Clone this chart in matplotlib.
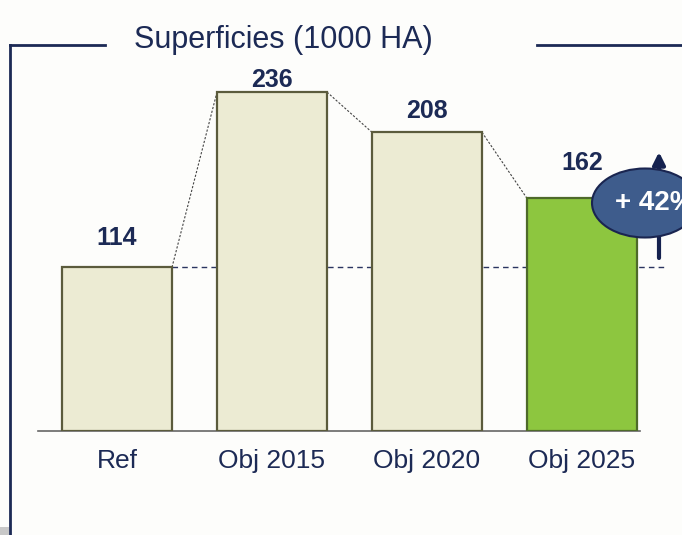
import matplotlib.pyplot as plt
from matplotlib.patches import Ellipse, Rectangle
from matplotlib.lines import Line2D

# data
categories = ['Ref', 'Obj 2015', 'Obj 2020', 'Obj 2025']
values = [114, 236, 208, 162]
title = 'Superficies (1000 HA)'
growth_label = '+ 42%'

# gap (px) between bar top and its value label centre, as placed in the slide
label_gap_px = [32, 15, 24, 38]

navy = '#1c2a55'
beige = '#ecebd3'
beige_edge = '#5b5b3c'
green = '#8dc63f'
green_edge = '#4e6a2a'

plt.rcParams['font.family'] = ['Liberation Sans', 'DejaVu Sans']

W, H = 682, 535
fig = plt.figure(figsize=(W / 100, H / 100), dpi=100)
fig.patch.set_facecolor('#fdfdfb')

# axes placed in pixel terms: baseline at y=431, x from 38 to 640
px_per_unit = 1.436
bar_step = 155.0
ax = fig.add_axes([38 / W, (H - 431) / H, 602 / W, 386 / H])
ax.set_facecolor('none')
xmin = -(117 - 38) / bar_step
ax.set_xlim(xmin, xmin + 602 / bar_step)
ax.set_ylim(0, 386 / px_per_unit)

def px_x(px):
    return xmin + (px - 38) / bar_step

def px_y(py):
    return (431 - py) / px_per_unit

width = 110 / bar_step
x = list(range(len(categories)))
colors = [beige, beige, beige, green]
edges = [beige_edge, beige_edge, beige_edge, green_edge]
ax.bar(x, values, width=width, color=colors, edgecolor=edges, linewidth=1.6, zorder=3)

for xi, v, gap in zip(x, values, label_gap_px):
    ax.text(xi, v + gap / px_per_unit, str(v), ha='center', va='center_baseline',
            fontsize=18, fontweight='bold', color=navy)

# dotted connectors between bar tops
for i in range(len(values) - 1):
    ax.plot([x[i] + width / 2, x[i + 1] - width / 2], [values[i], values[i + 1]],
            color='#444444', linestyle=(0, (2, 1.5)), linewidth=0.8, zorder=2)

# dashed reference line at Ref level
ax.plot([x[0] + width / 2, px_x(667)], [values[0], values[0]], color='#2b3560',
        linestyle=(0, (4, 3)), linewidth=1.0, clip_on=False, zorder=2)

# growth arrow and bubble (bubble runs off the right edge, as in the slide)
ax.annotate('', xy=(px_x(659), px_y(152)), xytext=(px_x(659), px_y(258)),
            arrowprops=dict(arrowstyle='-|>', color='#15224f', lw=3,
                            mutation_scale=18, shrinkA=0, shrinkB=0),
            annotation_clip=False, zorder=4)
ell = Ellipse((px_x(645), px_y(203)), 106 / bar_step, 69 / px_per_unit,
              facecolor='#3e5c8c', edgecolor='#1a2550', linewidth=1.5,
              clip_on=False, zorder=5)
ax.add_patch(ell)
ax.text(px_x(615), px_y(203), growth_label, ha='left', va='center', fontsize=20,
        fontweight='bold', color='white', zorder=6, clip_on=False)

ax.set_xticks(x)
ax.set_xticklabels(categories, fontsize=19, color=navy)
ax.tick_params(axis='x', length=0, pad=13)
ax.set_yticks([])
for s in ['top', 'right', 'left']:
    ax.spines[s].set_visible(False)
ax.spines['bottom'].set_color('#666666')
ax.spines['bottom'].set_linewidth(1.2)

# frame with title
fy = 1 - 45 / H
fig.add_artist(Line2D([10 / W, 105 / W], [fy, fy], color=navy, lw=2))
fig.add_artist(Line2D([537 / W, 1], [fy, fy], color=navy, lw=2))
fig.add_artist(Line2D([10 / W, 10 / W], [0, fy], color=navy, lw=2))
fig.text(283 / W, 1 - 40 / H, title, ha='center', va='center', fontsize=22, color=navy)
fig.add_artist(Rectangle((0, 0), 9 / W, 8 / H, transform=fig.transFigure,
                         facecolor='#c8c8c8', edgecolor='none'))

fig.savefig('out.png', dpi=100, facecolor=fig.get_facecolor())
